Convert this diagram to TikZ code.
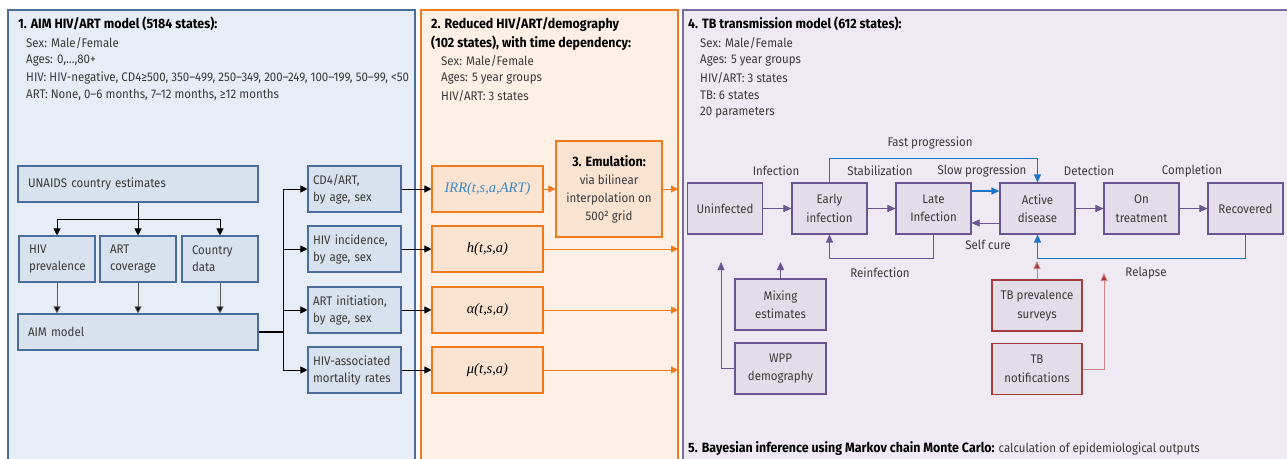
\documentclass[tikz,border=0pt]{standalone}
\usepackage{fontspec}
\setmainfont{Fira Sans}[FakeStretch=0.92]
\newfontfamily\mathserif{Liberation Serif}
\usetikzlibrary{arrows.meta}
\definecolor{p1fill}{HTML}{E6EDF7}
\definecolor{p1line}{HTML}{4C6D9C}
\definecolor{b1fill}{HTML}{D8E1EE}
\definecolor{p2fill}{HTML}{FEF0E4}
\definecolor{p2line}{HTML}{EE7A1E}
\definecolor{b2fill}{HTML}{FBE3D2}
\definecolor{p3fill}{HTML}{EEE9F3}
\definecolor{p3line}{HTML}{7A68A2}
\definecolor{b3fill}{HTML}{E3DDEA}
\definecolor{b3line}{HTML}{6A5593}
\definecolor{redline}{HTML}{A53C3C}
\definecolor{redarr}{HTML}{C98585}
\definecolor{redhead}{HTML}{9E3535}
\definecolor{bluearr}{HTML}{1C75C5}
\definecolor{irrblue}{HTML}{3A8AC9}
\definecolor{txt}{HTML}{3A3A3A}
\hyphenpenalty=10000
\tikzset{
  every node/.style={font=\fontsize{12.5}{17}\selectfont, text=txt},
  ttl/.style={anchor=west, font=\fontsize{13.5}{17}\selectfont\bfseries, text=black, inner sep=0pt},
  hline/.style={anchor=west, inner sep=0pt},
  boxa/.style={draw=p1line, fill=b1fill, line width=1.1pt, align=left, inner xsep=10pt, inner ysep=0pt},
  boxas/.style={boxa, inner xsep=5pt, text width=83pt, minimum height=46pt},
  boxb/.style={draw=p2line, fill=b2fill, line width=1.1pt, align=center, inner sep=0pt},
  boxc/.style={draw=b3line, fill=b3fill, line width=1.1pt, align=center, inner sep=0pt, minimum width=75pt, minimum height=51pt, font=\fontsize{12.5}{18.5}\selectfont},
  boxr/.style={boxc, draw=redline},
  arrk/.style={draw=black, line width=0.9pt, -{Triangle[length=7pt,width=7pt]}},
  arrg/.style={draw=black!65, line width=0.9pt, -{Triangle[length=7pt,width=7pt,fill=black]}},
  arro/.style={draw=p2line, line width=0.9pt, -{Triangle[length=7pt,width=7pt]}},
  arrp/.style={draw=b3line, line width=0.9pt, -{Triangle[length=8pt,width=7pt]}},
  arrb/.style={draw=bluearr, line width=1.1pt, -{Triangle[length=8pt,width=7pt]}},
  arrr/.style={draw=redarr, line width=0.9pt, -{Triangle[length=8pt,width=7pt,fill=redhead]}},
  lbl/.style={inner sep=0pt},
  mth/.style={font=\mathserif\itshape\fontsize{14.5}{16}\selectfont, text=black}
}
\begin{document}
\begin{tikzpicture}[x=1pt,y=-1pt]
\useasboundingbox (0,0) rectangle (1287,458);
% panels
\fill[p1fill] (8,10) rectangle (415,460);
\draw[p1line, line width=1.1pt] (8,460) -- (8,10) -- (415,10) -- (415,460);
\fill[p2fill] (421,10) rectangle (678,460);
\draw[p2line, line width=1.1pt] (421,460) -- (421,10) -- (678,10) -- (678,460);
\fill[p3fill] (683,10) rectangle (1290,460);
\draw[p3line, line width=1.1pt] (683,460) -- (683,10) -- (1290,10);

% panel 1 header
\node[ttl] (t1) at (18,24) {1. AIM HIV/ART model (5184 states):};
\node[hline] (t1a) at (26,43) {Sex: Male/Female};
\node[hline] (t1b) at (26,60.3) {Ages: 0,\dots,80+};
\node[hline] (t1c) at (26,77.6) {HIV: HIV-negative, CD4≥500, 350–499, 250–349, 200–249, 100–199, 50–99, <50};
\node[hline] (t1d) at (26,95) {ART: None, 0–6 months, 7–12 months, ≥12 months};

% panel 1 boxes
\node[boxa, text width=220pt, minimum height=36pt] (unaids) at (138,184) {UNAIDS country estimates};
\node[boxa, text width=56pt, minimum height=46pt] (hivprev) at (57,259) {HIV\\prevalence};
\node[boxa, text width=56pt, minimum height=46pt] (artcov) at (138,259) {ART\\coverage};
\node[boxa, text width=56pt, minimum height=46pt] (country) at (220,259) {Country\\data};
\node[boxa, text width=220pt, minimum height=36pt] (aim) at (138,332) {AIM model};
\node[boxas] (cd4) at (354.5,189) {CD4/ART,\\by age, sex};
\node[boxas] (inc) at (354.5,249) {HIV incidence,\\by age, sex};
\node[boxas] (init) at (354.5,310) {ART initiation,\\by age, sex};
\node[boxas] (mort) at (354.5,370) {HIV-associated\\mortality rates};

\coordinate (split) at (138,219);
\draw[black, line width=0.9pt] (unaids.south) -- (split);
\draw[arrk] (split) -| (hivprev.north);
\draw[arrk] (split) -- (artcov.north);
\draw[arrk] (split) -| (country.north);
\draw[arrg] (hivprev.south) -- (hivprev.south |- aim.north);
\draw[arrg] (artcov.south) -- (artcov.south |- aim.north);
\draw[arrg] (country.south) -- (country.south |- aim.north);
\coordinate (bus) at (283,332);
\draw[black, line width=1.5pt] (aim.east) -- (bus);
\draw[arrk] (bus) |- (cd4.west);
\draw[arrk] (bus) |- (inc.west);
\draw[arrk] (bus) |- (init.west);
\draw[arrk] (bus) |- (mort.west);

% panel 2 header
\node[ttl] (t2) at (431,24) {2. Reduced HIV/ART/demography};
\node[ttl] (t2b) at (431,43) {(102 states), with time dependency:};
\node[hline] (t2c) at (441,61) {Sex: Male/Female};
\node[hline] (t2d) at (441,78.5) {Ages: 5 year groups};
\node[hline] (t2e) at (441,96) {HIV/ART: 3 states};

% panel 2 boxes
\node[boxb, minimum width=111pt, minimum height=46pt, mth, text=irrblue] (irr) at (487.5,189) {IRR(t,s,a,ART)};
\node[boxb, minimum width=111pt, minimum height=46pt, mth] (hh) at (487.5,249) {h(t,s,a)};
\node[boxb, minimum width=111pt, minimum height=46pt, mth] (al) at (487.5,310) {α(t,s,a)};
\node[boxb, minimum width=111pt, minimum height=46pt, mth] (mu) at (487.5,370) {μ(t,s,a)};
\node[boxb, minimum width=106pt, minimum height=96pt, font=\fontsize{12.5}{18}\selectfont] (emu) at (609,189) {{\fontsize{13.5}{18}\selectfont\bfseries\color{black}3. Emulation:}\\via bilinear\\interpolation on\\500² grid};

\draw[arrk] (cd4.east) -- (irr.west);
\draw[arrk] (inc.east) -- (hh.west);
\draw[arrk] (init.east) -- (al.west);
\draw[arrk] (mort.east) -- (mu.west);

\coordinate (o1) at (678,189);
\coordinate (o2) at (678,249);
\coordinate (o3) at (678,310);
\coordinate (o4) at (678,370);
\draw[arro] (irr.east) -- (emu.west);
\draw[arro] (emu.east) -- (o1);
\draw[arro] (hh.east) -- (o2);
\draw[arro] (al.east) -- (o3);
\draw[arro] (mu.east) -- (o4);

% panel 3 header
\node[ttl] (t3) at (688,24) {4. TB transmission model (612 states):};
\node[hline] (t3a) at (700,43) {Sex: Male/Female};
\node[hline] (t3b) at (700,60.5) {Ages: 5 year groups};
\node[hline] (t3c) at (700,78) {HIV/ART: 3 states};
\node[hline] (t3d) at (700,95.5) {TB: 6 states};
\node[hline] (t3e) at (700,113) {20 parameters};

% panel 3 boxes
\node[boxc] (unin) at (725,208.5) {Uninfected};
\node[boxc] (early) at (829.5,208.5) {Early\\infection};
\node[boxc] (late) at (933.5,208.5) {Late\\Infection};
\node[boxc] (active) at (1037.5,208.5) {Active\\disease};
\node[boxc] (ontr) at (1141.5,208.5) {On\\treatment};
\node[boxc] (recov) at (1245.5,208.5) {Recovered};
\node[boxc, minimum width=91pt] (mix) at (780.5,304.5) {Mixing\\estimates};
\node[boxc, minimum width=91pt] (wpp) at (780.5,368.5) {WPP\\demography};
\node[boxr, minimum width=90pt] (tbprev) at (1037,305.5) {TB prevalence\\surveys};
\node[boxr, minimum width=90pt] (tbnot) at (1037,369) {TB\\notifications};

\draw[arrp] (unin.east) -- (early.west);
\draw[arrp] (early.east) -- (late.west);
\draw[arrp] (active.east) -- (ontr.west);
\draw[arrp] (ontr.east) -- (recov.west);
\draw[arrb] ([yshift=17.5pt]late.east) -- ([yshift=17.5pt]active.west);
\draw[arrp] ([yshift=-14.5pt]active.west) -- ([yshift=-14.5pt]late.east);
\draw[arrb] (early.north) -- ++(0,-24) -| (active.north);
\draw[arrp] (late.south) -- ++(0,24) -| (early.south);
\draw[arrb] (recov.south) -- ++(0,24) -| (active.south);

\coordinate (mixtip) at (780.5,262);
\coordinate (wpptip) at (721,262);
\coordinate (prevtip) at (1037,261);
\coordinate (nottip) at (1104,273);
\draw[arrp] (mix.north) -- (mixtip);
\draw[arrp] (wpp.west) -| (wpptip);
\draw[arrr] (tbprev.north) -- (prevtip);
\draw[arrr] (tbnot.east) -| (nottip);

\node[lbl] (lfast) at (930,143) {Fast progression};
\node[lbl] (linf) at (776,171) {Infection};
\node[lbl] (lstab) at (880,171) {Stabilization};
\node[lbl] (lslow) at (982,171) {Slow progression};
\node[lbl] (ldet) at (1089,171) {Detection};
\node[lbl] (lcomp) at (1192,171) {Completion};
\node[lbl] (lself) at (988,245) {Self cure};
\node[lbl] (lreinf) at (880,273) {Reinfection};
\node[lbl] (lrel) at (1146,273) {Relapse};

\node[hline] (t5) at (688,449) {{\fontsize{13.5}{17}\selectfont\bfseries\color{black}5. Bayesian inference using Markov chain Monte Carlo:} calculation of epidemiological outputs};
\end{tikzpicture}
\end{document}
